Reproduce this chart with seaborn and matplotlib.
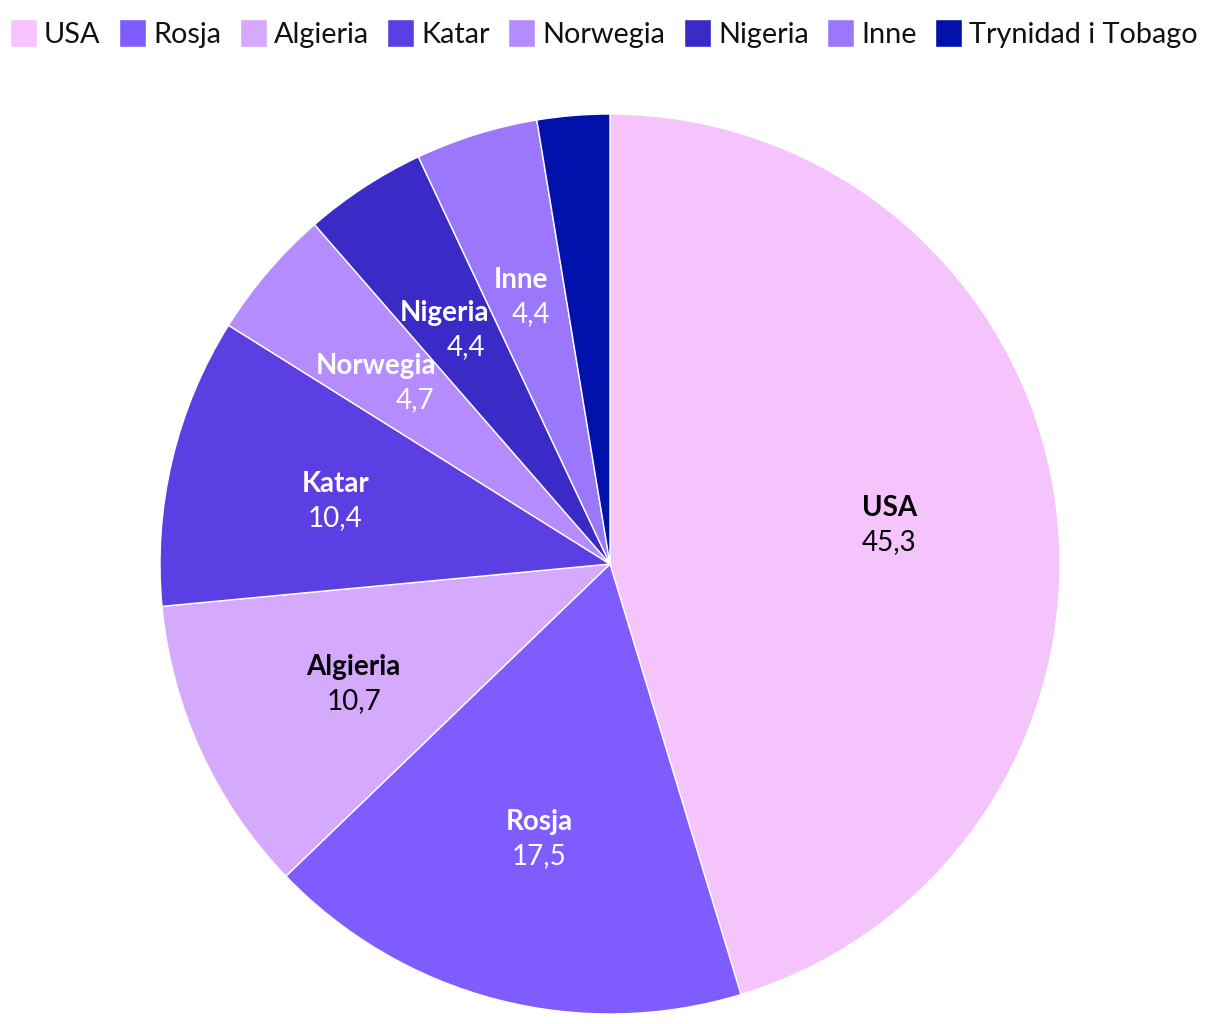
import numpy as np
import matplotlib
matplotlib.use("Agg")
import matplotlib.pyplot as plt
import seaborn as sns

categories = ["USA", "Rosja", "Algieria", "Katar", "Norwegia", "Nigeria", "Inne", "Trynidad i Tobago"]
values = [45.3, 17.5, 10.7, 10.4, 4.7, 4.4, 4.4, 2.6]
value_labels = ["45,3", "17,5", "10,7", "10,4", "4,7", "4,4", "4,4", ""]
colors = ["#f5c4fd", "#7f5cfe", "#d5a9fd", "#5b3fe2", "#b48cfd", "#3a2bc7", "#9b77fc", "#0012ab"]
text_colors = ["#000000", "#ffffff", "#000000", "#ffffff", "#ffffff", "#ffffff", "#ffffff", "#ffffff"]
# horizontal nudges (points) of the name / value lines so that they fit inside narrow slices
name_nudge = [0, 0, 0, 0, -14, -8, -3.5, 0]
value_nudge = [0, 0, 0, 0, 14, 7, 3.5, 0]

sns.set_theme(style="white")
plt.rcParams['font.family'] = ['Lato', 'DejaVu Sans']

fig = plt.figure(figsize=(12.2, 10.24), dpi=100)
ax = fig.add_axes([160/1220, 10/1024, 900/1220, 900/1024])

wedges, _ = ax.pie(values, colors=colors, startangle=90, counterclock=False,
                   wedgeprops=dict(edgecolor="white", linewidth=1.0))
ax.set_aspect("equal")
ax.set_xlim(-1, 1)
ax.set_ylim(-1, 1)

for w, name, vl, tc, nn, vn in zip(wedges, categories, value_labels, text_colors,
                                    name_nudge, value_nudge):
    if not vl:
        continue
    ang = np.deg2rad((w.theta1 + w.theta2) / 2)
    r = 0.627
    x, y = r * np.cos(ang), r * np.sin(ang)
    ax.annotate(name, (x, y), xytext=(nn, 5), textcoords="offset points",
                ha="center", va="baseline", fontsize=20, fontweight="bold", color=tc)
    ax.annotate(vl, (x, y), xytext=(vn, -19.5), textcoords="offset points",
                ha="center", va="baseline", fontsize=20, color=tc)

fig.legend(wedges, categories, loc="upper left", bbox_to_anchor=(10/1220, 1 - 19/1024),
           ncol=8, frameon=False, fontsize=20.8, handlelength=0.93, handleheight=1.10,
           handletextpad=0.25, columnspacing=0.64, borderaxespad=0, borderpad=0,
           labelcolor="#111111")

fig.savefig("out.png", dpi=100)
